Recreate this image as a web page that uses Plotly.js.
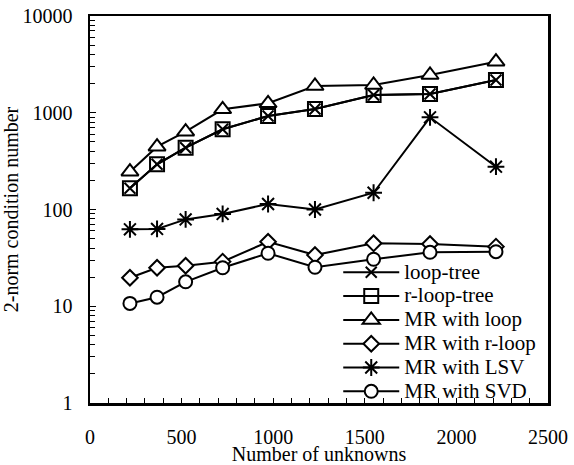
<!DOCTYPE html>
<html>
<head>
<meta charset="utf-8">
<script src="https://cdn.plot.ly/plotly-3.0.1.min.js"></script>
<style>html,body{margin:0;padding:0;background:#fff;}#chart{width:574px;height:465px;}</style>
</head>
<body>
<div id="chart"></div>
<script>
var unknowns = [218, 366, 522, 724, 972, 1228, 1548, 1856, 2216];
var loopTree = [166, 293, 435, 675, 925, 1093, 1527, 1563, 2181];
var rLoopTree = [166, 293, 435, 675, 925, 1093, 1527, 1563, 2181];
var mrLoop = [246, 446, 637, 1086, 1253, 1890, 1935, 2456, 3371];
var mrRLoop = [19.7, 25, 26.2, 28.9, 46.4, 33.8, 44.7, 44, 41.3];
var mrLSV = [62.4, 63, 79, 90, 114, 100, 149, 897, 277];
var mrSVD = [10.7, 12.4, 17.9, 25, 35.3, 25.3, 30.6, 36.1, 36.6];
var seriesNames = ['loop-tree', 'r-loop-tree', 'MR with loop', 'MR with r-loop', 'MR with LSV', 'MR with SVD'];
var xTickVals = [0, 500, 1000, 1500, 2000, 2500];
var yTickVals = [1, 10, 100, 1000, 10000];

var seriesData = [loopTree, rLoopTree, mrLoop, mrRLoop, mrLSV, mrSVD];
var symbols = ['x-thin-open', 'square', 'triangle-up', 'diamond', 'asterisk-open', 'circle'];
var sizes = [11, 14, 15, 12, 14, 13];
var fills = ['#000', 'rgba(255,255,255,0)', '#fff', '#fff', '#000', '#fff'];

var FONT = '"Liberation Serif", "Times New Roman", Times, serif';

// draw r-loop-tree squares beneath the loop-tree crosses
var order = [1, 0, 2, 3, 4, 5];
var traces = order.map(function (i) {
  return {
    x: unknowns,
    y: seriesData[i],
    type: 'scatter',
    mode: 'lines+markers',
    name: '<span style="font-size:21px">' + seriesNames[i] + '</span>',
    legendrank: i + 1,
    line: {color: '#000', width: 2},
    marker: {symbol: symbols[i], size: sizes[i], color: fills[i], line: {color: '#000', width: 2}}
  };
});

var layout = {
  width: 574,
  height: 465,
  margin: {l: 90, r: 26, t: 16, b: 62},
  paper_bgcolor: '#fff',
  plot_bgcolor: '#fff',
  font: {family: FONT, size: 20, color: '#000'},
  showlegend: true,
  legend: {
    x: 0.542, y: -0.014, xanchor: 'left', yanchor: 'bottom',
    bgcolor: 'rgba(255,255,255,0)',
    font: {family: FONT, size: 16, color: '#000'},
    itemwidth: 56,
    tracegroupgap: 0
  },
  xaxis: {
    range: [0, 2500],
    tickvals: xTickVals,
    ticktext: xTickVals.map(String),
    ticks: 'inside', ticklen: 5, tickwidth: 1, tickcolor: '#000',
    minor: {dtick: 100, ticks: 'inside', ticklen: 5, tickwidth: 1, tickcolor: '#000'},
    showline: true, linecolor: '#000', linewidth: 2.5, mirror: true,
    showgrid: false, zeroline: false,
    ticklabelstandoff: 14,
    tickfont: {family: FONT, size: 20},
    title: {text: 'Number of unknowns', font: {family: FONT, size: 20}, standoff: 0}
  },
  yaxis: {
    type: 'log',
    range: [0, 4],
    tickvals: yTickVals,
    ticktext: yTickVals.map(String),
    ticks: 'inside', ticklen: 6, tickwidth: 1, tickcolor: '#000',
    minor: {dtick: 'D1', ticks: 'inside', ticklen: 5, tickwidth: 1, tickcolor: '#000'},
    showline: true, linecolor: '#000', linewidth: 2.5, mirror: true,
    showgrid: false, zeroline: false,
    ticklabelstandoff: 11,
    tickfont: {family: FONT, size: 20},
    title: {text: '2-norm condition number', font: {family: FONT, size: 20}, standoff: 4}
  }
};

Plotly.newPlot('chart', traces, layout, {displayModeBar: false, staticPlot: true});
</script>
</body>
</html>
